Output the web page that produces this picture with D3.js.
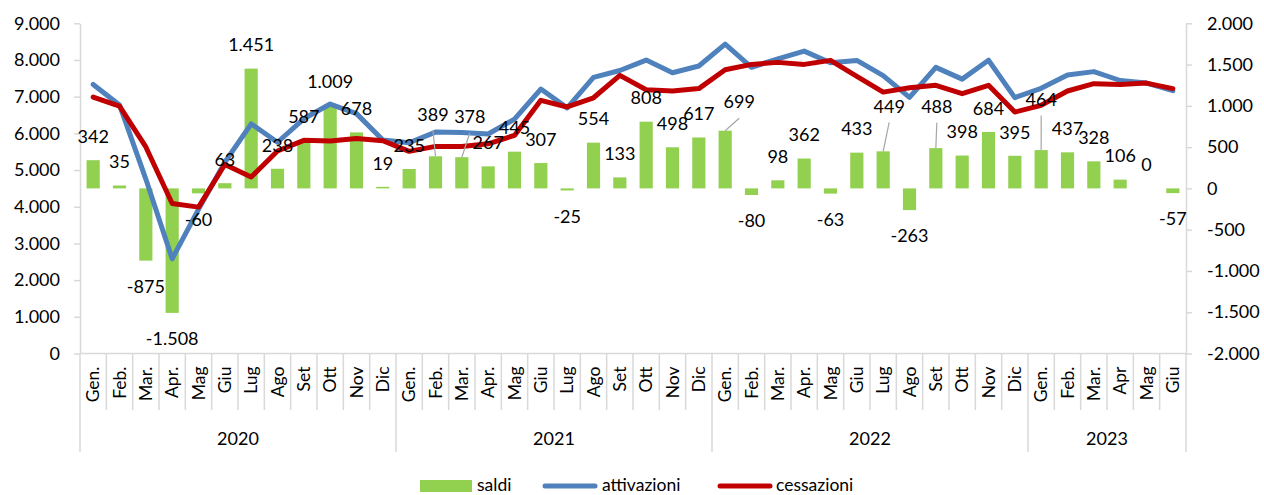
<!DOCTYPE html>
<html>
<head>
<meta charset="utf-8">
<script src="https://cdn.jsdelivr.net/npm/d3@7"></script>
<style>
  body { margin: 0; background: #fff; }
  svg { display: block; font-family: Lato, "Open Sans", sans-serif; }
</style>
</head>
<body>
<svg id="chart" width="1264" height="495"></svg>
<script>
const months = [
  "Gen.", "Feb.", "Mar.", "Apr.", "Mag", "Giu", "Lug", "Ago", "Set", "Ott", "Nov", "Dic",
  "Gen.", "Feb.", "Mar.", "Apr.", "Mag", "Giu", "Lug", "Ago", "Set", "Ott", "Nov", "Dic",
  "Gen.", "Feb.", "Mar.", "Apr.", "Mag", "Giu", "Lug", "Ago", "Set", "Ott", "Nov", "Dic",
  "Gen.", "Feb.", "Mar.", "Apr", "Mag", "Giu"
];
const years = [
  { label: "2020", start: 0, end: 12 },
  { label: "2021", start: 12, end: 24 },
  { label: "2022", start: 24, end: 36 },
  { label: "2023", start: 36, end: 42 }
];
const saldi = [
  342, 35, -875, -1508, -60, 63, 1451, 238, 587, 1009, 678, 19,
  235, 389, 378, 267, 445, 307, -25, 554, 133, 808, 498, 617,
  699, -80, 98, 362, -63, 433, 449, -263, 488, 398, 684, 395,
  464, 437, 328, 106, 0, -57
];
const attivazioni = [
  7332, 6775, 4755, 2582, 3930, 5213, 6261, 5758, 6397, 6799, 6538, 5819,
  5745, 6034, 6023, 5982, 6390, 7207, 6695, 7524, 7713, 7998, 7653, 7837,
  8434, 7800, 8033, 8242, 7927, 7988, 7574, 6982, 7798, 7478, 7994, 6975,
  7229, 7592, 7683, 7441, 7370, 7163
];
const cessazioni = [
  6990, 6740, 5630, 4090, 3990, 5150, 4810, 5520, 5810, 5790, 5860, 5800,
  5510, 5645, 5645, 5715, 5945, 6900, 6720, 6970, 7580, 7190, 7155, 7220,
  7735, 7880, 7935, 7880, 7990, 7555, 7125, 7245, 7310, 7080, 7310, 6580,
  6765, 7155, 7355, 7335, 7370, 7220
];
const leftTicks = [0, 1000, 2000, 3000, 4000, 5000, 6000, 7000, 8000, 9000];
const rightTicks = [-2000, -1500, -1000, -500, 0, 500, 1000, 1500, 2000];

// labels dragged by hand in the original (index -> [dx, dy] px, with leader line)
const labelNudge = { 13: [-2.5, -18], 14: [8, -17], 24: [14, -5], 30: [6, -21.5], 32: [1, -18], 36: [0, -27] };

const W = 1264, H = 495;
const m = { top: 23.3, right: 78, bottom: 141.5, left: 80 };
const iH = H - m.top - m.bottom;
const GREEN = "#92D050", BLUE = "#4F81BD", RED = "#C00000", AXIS = "#D9D9D9";

const fmt = d3.formatLocale({ decimal: ",", thousands: ".", grouping: [3], currency: ["", ""], minus: "-" }).format(",d");

const svg = d3.select("#chart");
const idx = d3.range(months.length);

const x = d3.scaleBand().domain(idx).range([m.left, W - m.right]).paddingInner(0.5).paddingOuter(0.25);
const step = x.step();
const x0 = m.left, x1 = W - m.right;
const cx = i => x0 + step * (i + 0.5);
const yL = d3.scaleLinear().domain([0, 9000]).range([m.top + iH, m.top]);
const yR = d3.scaleLinear().domain([-2000, 2000]).range([m.top + iH, m.top]);
const base = m.top + iH;

// Left axis
svg.append("g")
  .attr("transform", `translate(${x0},0)`)
  .call(d3.axisLeft(yL).tickValues(leftTicks).tickFormat(fmt).tickSize(6).tickSizeOuter(0))
  .call(ax => {
    ax.select(".domain").attr("stroke", AXIS).attr("stroke-width", 1.5);
    ax.selectAll(".tick line").attr("stroke", AXIS).attr("stroke-width", 1.5);
    ax.selectAll(".tick text").attr("x", -20).style("fill", "#000").style("font-size", "18px").style("font-family", "Lato");
  });

// Right axis
svg.append("g")
  .attr("transform", `translate(${x1},0)`)
  .call(d3.axisRight(yR).tickValues(rightTicks).tickFormat(fmt).tickSize(6).tickSizeOuter(0))
  .call(ax => {
    ax.select(".domain").attr("stroke", AXIS).attr("stroke-width", 1.5);
    ax.selectAll(".tick line").attr("stroke", AXIS).attr("stroke-width", 1.5);
    ax.selectAll(".tick text").attr("x", 21).style("fill", "#000").style("font-size", "18px").style("font-family", "Lato");
  });

// Category axis: baseline, month separators, year separators
svg.append("line").attr("x1", x0).attr("x2", x1).attr("y1", base).attr("y2", base)
  .attr("stroke", AXIS).attr("stroke-width", 1.5);
const yearBounds = new Set(years.flatMap(d => [d.start, d.end]));
svg.append("g").selectAll("line").data(d3.range(months.length + 1)).join("line")
  .attr("x1", i => x0 + step * i).attr("x2", i => x0 + step * i)
  .attr("y1", base).attr("y2", i => yearBounds.has(i) ? base + 98.5 : base + 56.5)
  .attr("stroke", AXIS).attr("stroke-width", 1.5);

svg.append("g").selectAll("text").data(idx).join("text")
  .attr("transform", i => `translate(${cx(i)},${base + 13}) rotate(-90)`)
  .attr("text-anchor", "end").attr("dy", "0.35em")
  .style("font-size", "17.5px").style("fill", "#000")
  .text(i => months[i]);

svg.append("g").selectAll("text").data(years).join("text")
  .attr("x", d => x0 + step * (d.start + d.end) / 2).attr("y", base + 85)
  .attr("text-anchor", "middle").attr("dy", "0.35em")
  .style("font-size", "18px").style("fill", "#000")
  .text(d => d.label);

// Bars (saldi, right axis)
svg.append("g").selectAll("rect").data(idx).join("rect")
  .attr("x", i => x(i))
  .attr("width", x.bandwidth())
  .attr("y", i => yR(Math.max(0, saldi[i])))
  .attr("height", i => Math.abs(yR(saldi[i]) - yR(0)))
  .attr("fill", GREEN);

// Lines (left axis)
const line = d3.line().x(d => cx(d[0])).y(d => yL(d[1]));
svg.append("path").datum(idx.map(i => [i, attivazioni[i]]))
  .attr("fill", "none").attr("stroke", BLUE).attr("stroke-width", 5)
  .attr("stroke-linejoin", "round").attr("stroke-linecap", "round").attr("d", line);
svg.append("path").datum(idx.map(i => [i, cessazioni[i]]))
  .attr("fill", "none").attr("stroke", RED).attr("stroke-width", 5)
  .attr("stroke-linejoin", "round").attr("stroke-linecap", "round").attr("d", line);

// Data labels
const labelPos = i => {
  const v = saldi[i];
  const nx = labelNudge[i] ? labelNudge[i][0] : 0;
  const ny = labelNudge[i] ? labelNudge[i][1] : 0;
  return [cx(i) + nx, (v >= 0 ? yR(v) - 23.5 : yR(v) + 26) + ny];
};
svg.append("g").selectAll("line").data(Object.keys(labelNudge).map(Number)).join("line")
  .attr("x1", i => cx(i)).attr("y1", i => yR(saldi[i]))
  .attr("x2", i => labelPos(i)[0]).attr("y2", i => labelPos(i)[1] + 16)
  .attr("stroke", "#A6A6A6").attr("stroke-width", 1.2);
svg.append("g").selectAll("text").data(idx).join("text")
  .attr("x", i => labelPos(i)[0]).attr("y", i => labelPos(i)[1])
  .attr("text-anchor", "middle").attr("dy", "0.35em")
  .style("font-size", "18px").style("fill", "#000")
  .text(i => fmt(saldi[i]));

// Legend
const lg = svg.append("g").attr("transform", "translate(0,485)");
lg.append("rect").attr("x", 420).attr("y", -5).attr("width", 52).attr("height", 12).attr("fill", GREEN);
lg.append("text").attr("x", 477).attr("dy", "0.35em").style("font-size", "17.5px").text("saldi");
lg.append("line").attr("x1", 545).attr("x2", 595).attr("y1", 1).attr("y2", 1).attr("stroke", BLUE).attr("stroke-width", 5).attr("stroke-linecap", "round");
lg.append("text").attr("x", 602).attr("dy", "0.35em").style("font-size", "17.5px").text("attivazioni");
lg.append("line").attr("x1", 720).attr("x2", 770).attr("y1", 1).attr("y2", 1).attr("stroke", RED).attr("stroke-width", 5).attr("stroke-linecap", "round");
lg.append("text").attr("x", 776).attr("dy", "0.35em").style("font-size", "17.5px").text("cessazioni");
</script>
</body>
</html>
